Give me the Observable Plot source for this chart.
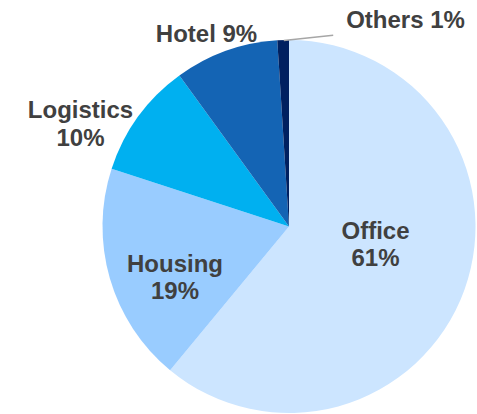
<!DOCTYPE html>
<html>
<head>
<meta charset="utf-8">
<script src="https://cdn.jsdelivr.net/npm/d3@7"></script>
<script src="https://cdn.jsdelivr.net/npm/@observablehq/plot@0.6"></script>
<style>
  html, body { margin: 0; padding: 0; background: #ffffff; }
  #chart svg { display: block; }
</style>
</head>
<body>
<div id="chart"></div>
<script>
// ---- data ----
const categories = ["Office", "Housing", "Logistics", "Hotel", "Others"];
const shares = [61, 19, 10, 9, 1];
const sliceColors = ["#CCE5FF", "#99CCFF", "#00B0F0", "#1464B4", "#002060"];
const labelSeparators = ["\n", "\n", "\n", " ", " "];

// ---- layout (pixels) ----
const W = 477, H = 414;
const cx = 289, cy = 226.5, R = 186.5;
const labelPx = [[375, 243.3], [174.5, 276.1], [80, 122.8], [206, 32.2], [405, 18.2]];
const leaderPx = [[283.3, 40], [332.7, 34.7]];

const toData = ([px, py]) => [(px - cx) / R, (cy - py) / R];

const rows = categories.map((c, i) => ({
  category: c,
  share: shares[i],
  color: sliceColors[i],
  label: c + labelSeparators[i] + shares[i] + "%",
  lx: toData(labelPx[i])[0],
  ly: toData(labelPx[i])[1]
}));

const pie = d3.pie().value(d => d.share).sort(null).startAngle(0).endAngle(2 * Math.PI)(rows);

const pieMark = (index, scales) => {
  const x = scales.x, y = scales.y;
  const r = x(1) - x(0);
  const arc = d3.arc().innerRadius(0).outerRadius(r);
  const g = d3.create("svg:g").attr("transform", `translate(${x(0)},${y(0)})`);
  g.selectAll("path").data(pie).join("path")
    .attr("d", arc)
    .attr("fill", d => d.data.color);
  return g.node();
};

const lead = [{x1: toData(leaderPx[0])[0], y1: toData(leaderPx[0])[1], x2: toData(leaderPx[1])[0], y2: toData(leaderPx[1])[1]}];

const chart = Plot.plot({
  width: W,
  height: H,
  marginLeft: cx - R,
  marginRight: W - (cx + R),
  marginTop: cy - R,
  marginBottom: H - (cy + R),
  x: {domain: [-1, 1], axis: null},
  y: {domain: [-1, 1], axis: null},
  style: {background: "#ffffff", overflow: "visible"},
  marks: [
    pieMark,
    Plot.link(lead, {x1: "x1", y1: "y1", x2: "x2", y2: "y2", stroke: "#A6A6A6", strokeWidth: 1.5}),
    Plot.text(rows, {
      x: "lx", y: "ly", text: "label",
      fill: "#404040",
      fontSize: 24,
      fontWeight: "bold",
      fontFamily: "Liberation Sans, Arial, sans-serif",
      lineHeight: 1.15,
      lineAnchor: "middle",
      textAnchor: "middle"
    })
  ]
});
document.getElementById("chart").appendChild(chart);
</script>
</body>
</html>
